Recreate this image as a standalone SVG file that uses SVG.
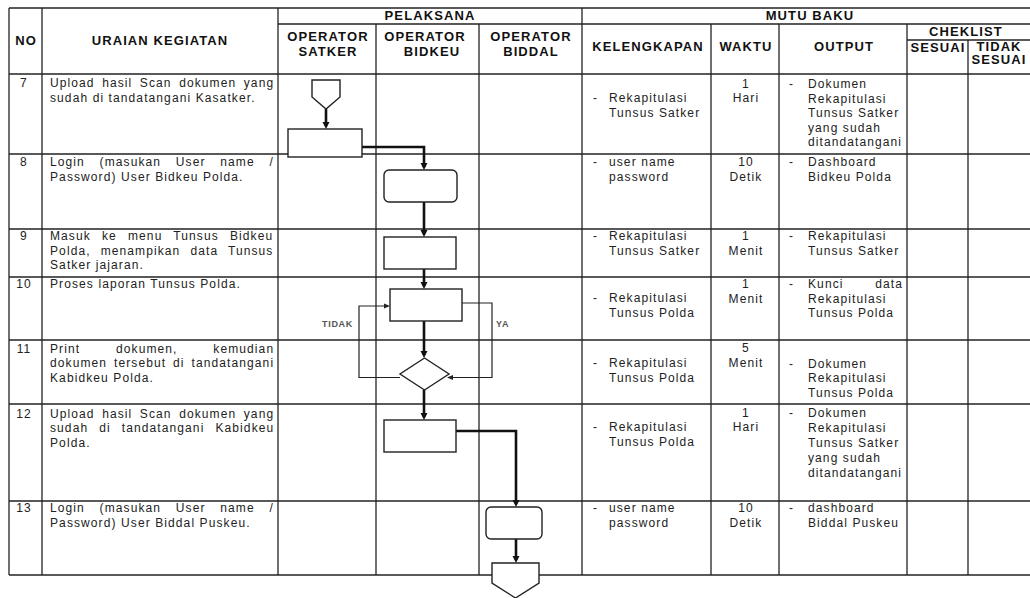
<svg xmlns="http://www.w3.org/2000/svg" width="1030" height="598" viewBox="0 0 1030 598">
<defs>
<style>
.t{font-family:"Liberation Sans",Arial,sans-serif;font-size:12px;letter-spacing:1.1px;fill:#222}
.c{text-anchor:middle}
.h{font-family:"Liberation Sans",Arial,sans-serif;font-size:13px;font-weight:bold;letter-spacing:1.1px;fill:#111;text-anchor:middle}
.lbl{font-family:"Liberation Sans",Arial,sans-serif;font-size:9px;font-weight:bold;letter-spacing:0.7px;fill:#555}
.grid line{stroke:#222;stroke-width:1.3}
.shape{fill:#fff;stroke:#222;stroke-width:1.4}
.flow{fill:none;stroke:#111;stroke-width:2.6}
.loop{fill:none;stroke:#222;stroke-width:1.2}
</style>
<marker id="ah" markerWidth="10" markerHeight="10" refX="4" refY="4" orient="auto" markerUnits="userSpaceOnUse"><path d="M0,0.5 L7,4 L0,7.5 z" fill="#111"/></marker>
<marker id="as" markerWidth="10" markerHeight="10" refX="3" refY="3" orient="auto" markerUnits="userSpaceOnUse"><path d="M0,0.5 L6,3 L0,5.5 z" fill="#222"/></marker>
</defs>
<rect width="1030" height="598" fill="#fff"/>
<g id="table" class="grid">
<line x1="9" y1="8" x2="1031" y2="8"/>
<line x1="278" y1="24" x2="1031" y2="24"/>
<line x1="907" y1="40" x2="1031" y2="40"/>
<line x1="9" y1="74" x2="1031" y2="74"/>
<line x1="9" y1="154" x2="1031" y2="154"/>
<line x1="9" y1="229" x2="1031" y2="229"/>
<line x1="9" y1="277" x2="1031" y2="277"/>
<line x1="9" y1="340" x2="1031" y2="340"/>
<line x1="9" y1="404" x2="1031" y2="404"/>
<line x1="9" y1="501" x2="1031" y2="501"/>
<line x1="9" y1="575" x2="1031" y2="575"/>
<line x1="9" y1="8" x2="9" y2="575"/>
<line x1="42" y1="8" x2="42" y2="575"/>
<line x1="278" y1="8" x2="278" y2="575"/>
<line x1="376" y1="24" x2="376" y2="575"/>
<line x1="479" y1="24" x2="479" y2="575"/>
<line x1="582" y1="8" x2="582" y2="575"/>
<line x1="711" y1="24" x2="711" y2="575"/>
<line x1="779" y1="24" x2="779" y2="575"/>
<line x1="907" y1="24" x2="907" y2="575"/>
<line x1="968" y1="40" x2="968" y2="575"/>
</g>
<g id="header">
<text class="h" x="430" y="20">PELAKSANA</text>
<text class="h" x="810" y="20">MUTU BAKU</text>
<text class="h" x="26" y="45">NO</text>
<text class="h" x="160" y="45">URAIAN KEGIATAN</text>
<text class="h" x="328" y="41">OPERATOR</text>
<text class="h" x="328" y="55.5">SATKER</text>
<text class="h" x="425" y="41">OPERATOR</text>
<text class="h" x="432" y="55.5">BIDKEU</text>
<text class="h" x="531" y="41">OPERATOR</text>
<text class="h" x="531" y="55.5">BIDDAL</text>
<text class="h" x="648" y="51">KELENGKAPAN</text>
<text class="h" x="746" y="51">WAKTU</text>
<text class="h" x="844" y="51">OUTPUT</text>
<text class="h" x="966" y="36">CHEKLIST</text>
<text class="h" x="938" y="52">SESUAI</text>
<text class="h" x="999" y="50.5">TIDAK</text>
<text class="h" x="999" y="64">SESUAI</text>
</g>
<g id="rows">
<text class="t c" x="24" y="87">7</text>
<text class="t" x="50" y="87" word-spacing="3.1">Upload hasil Scan dokumen yang</text>
<text class="t" x="50" y="101.5">sudah di tandatangani Kasatker.</text>
<text class="t" x="593" y="102">-</text><text class="t" x="609" y="102">Rekapitulasi</text>
<text class="t" x="609" y="116.5">Tunsus Satker</text>
<text class="t c" x="746" y="87.5">1</text><text class="t c" x="746" y="102">Hari</text>
<text class="t" x="789" y="88">-</text><text class="t" x="808" y="88">Dokumen</text>
<text class="t" x="808" y="102.5">Rekapitulasi</text>
<text class="t" x="808" y="117">Tunsus Satker</text>
<text class="t" x="808" y="131.5">yang sudah</text>
<text class="t" x="808" y="146">ditandatangani</text>

<text class="t c" x="24" y="166">8</text>
<text class="t" x="50" y="166" word-spacing="10.3">Login (masukan User name /</text>
<text class="t" x="50" y="180.5">Password) User Bidkeu Polda.</text>
<text class="t" x="593" y="166">-</text><text class="t" x="609" y="166">user name</text>
<text class="t" x="609" y="180.5">password</text>
<text class="t c" x="746" y="166">10</text><text class="t c" x="746" y="180.5">Detik</text>
<text class="t" x="789" y="166">-</text><text class="t" x="808" y="166">Dashboard</text>
<text class="t" x="808" y="180.5">Bidkeu Polda</text>

<text class="t c" x="24" y="240">9</text>
<text class="t" x="50" y="240" word-spacing="6.7">Masuk ke menu Tunsus Bidkeu</text>
<text class="t" x="50" y="254.5" word-spacing="5.6">Polda, menampikan data Tunsus</text>
<text class="t" x="50" y="269">Satker jajaran.</text>
<text class="t" x="593" y="240">-</text><text class="t" x="609" y="240">Rekapitulasi</text>
<text class="t" x="609" y="254.5">Tunsus Satker</text>
<text class="t c" x="746" y="240">1</text><text class="t c" x="746" y="254.5">Menit</text>
<text class="t" x="789" y="240">-</text><text class="t" x="808" y="240">Rekapitulasi</text>
<text class="t" x="808" y="254.5">Tunsus Satker</text>

<text class="t c" x="24" y="287.5">10</text>
<text class="t" x="50" y="287.5">Proses laporan Tunsus Polda.</text>
<text class="t" x="593" y="302">-</text><text class="t" x="609" y="302">Rekapitulasi</text>
<text class="t" x="609" y="316.5">Tunsus Polda</text>
<text class="t c" x="746" y="288">1</text><text class="t c" x="746" y="302.5">Menit</text>
<text class="t" x="789" y="288">-</text><text class="t" x="808" y="288">Kunci</text><text class="t" x="903" y="288" text-anchor="end">data</text>
<text class="t" x="808" y="302.5">Rekapitulasi</text>
<text class="t" x="808" y="317">Tunsus Polda</text>

<text class="t c" x="24" y="352.5">11</text>
<text class="t" x="50" y="352.5" word-spacing="31.4">Print dokumen, kemudian</text>
<text class="t" x="50" y="367" word-spacing="2.5">dokumen tersebut di tandatangani</text>
<text class="t" x="50" y="381.5">Kabidkeu Polda.</text>
<text class="t" x="593" y="367">-</text><text class="t" x="609" y="367">Rekapitulasi</text>
<text class="t" x="609" y="381.5">Tunsus Polda</text>
<text class="t c" x="746" y="352">5</text><text class="t c" x="746" y="366.5">Menit</text>
<text class="t" x="789" y="367.5">-</text><text class="t" x="808" y="367.5">Dokumen</text>
<text class="t" x="808" y="382">Rekapitulasi</text>
<text class="t" x="808" y="396.5">Tunsus Polda</text>

<text class="t c" x="24" y="417.5">12</text>
<text class="t" x="50" y="417.5" word-spacing="3.1">Upload hasil Scan dokumen yang</text>
<text class="t" x="50" y="432" word-spacing="6.6">sudah di tandatangani Kabidkeu</text>
<text class="t" x="50" y="447">Polda.</text>
<text class="t" x="593" y="431">-</text><text class="t" x="609" y="431">Rekapitulasi</text>
<text class="t" x="609" y="445.5">Tunsus Polda</text>
<text class="t c" x="746" y="416.5">1</text><text class="t c" x="746" y="431">Hari</text>
<text class="t" x="789" y="417">-</text><text class="t" x="808" y="417">Dokumen</text>
<text class="t" x="808" y="432">Rekapitulasi</text>
<text class="t" x="808" y="447">Tunsus Satker</text>
<text class="t" x="808" y="462">yang sudah</text>
<text class="t" x="808" y="477">ditandatangani</text>

<text class="t c" x="24" y="512">13</text>
<text class="t" x="50" y="512" word-spacing="10.3">Login (masukan User name /</text>
<text class="t" x="50" y="526.5">Password) User Biddal Puskeu.</text>
<text class="t" x="593" y="512">-</text><text class="t" x="609" y="512">user name</text>
<text class="t" x="609" y="526.5">password</text>
<text class="t c" x="746" y="512">10</text><text class="t c" x="746" y="526.5">Detik</text>
<text class="t" x="789" y="512">-</text><text class="t" x="808" y="512">dashboard</text>
<text class="t" x="808" y="526.5">Biddal Puskeu</text>
</g>
<g id="connectors">
<path class="flow" d="M326,109 V126" marker-end="url(#ah)"/>
<path class="flow" d="M362,147 H424 V167" marker-end="url(#ah)"/>
<path class="flow" d="M424,202 V234" marker-end="url(#ah)"/>
<path class="flow" d="M424,269 V286" marker-end="url(#ah)"/>
<path class="flow" d="M424,321 V355" marker-end="url(#ah)"/>
<path class="flow" d="M424,390 V417" marker-end="url(#ah)"/>
<path class="flow" d="M456,431 H516 V504" marker-end="url(#ah)"/>
<path class="flow" d="M516,539 V560" marker-end="url(#ah)"/>
<path class="loop" d="M400,377.5 H359 V306 H387" marker-end="url(#as)"/>
<path class="loop" d="M462,303 H492 V377.5 H450" marker-end="url(#as)"/>
<text class="lbl" x="322" y="327">TIDAK</text>
<text class="lbl" x="496" y="327">YA</text>
</g>
<g id="n1"><polygon class="shape" points="312,80 340,80 340,97 326,109 312,97"/></g>
<g id="n2"><rect class="shape" x="288" y="129" width="74" height="28"/></g>
<g id="n3"><rect class="shape" x="384" y="170" width="73" height="32" rx="5"/></g>
<g id="n4"><rect class="shape" x="384" y="237" width="72" height="32"/></g>
<g id="n5"><rect class="shape" x="390" y="289" width="72" height="32"/></g>
<g id="n6"><polygon class="shape" points="424.5,358 449,374 424.5,390 400,374"/></g>
<g id="n7"><rect class="shape" x="384" y="420" width="72" height="32"/></g>
<g id="n8"><rect class="shape" x="486" y="507" width="56" height="32" rx="5"/></g>
<g id="n9"><polygon class="shape" points="492,563 539,563 539,583 515.5,598 492,583"/></g>
</svg>
